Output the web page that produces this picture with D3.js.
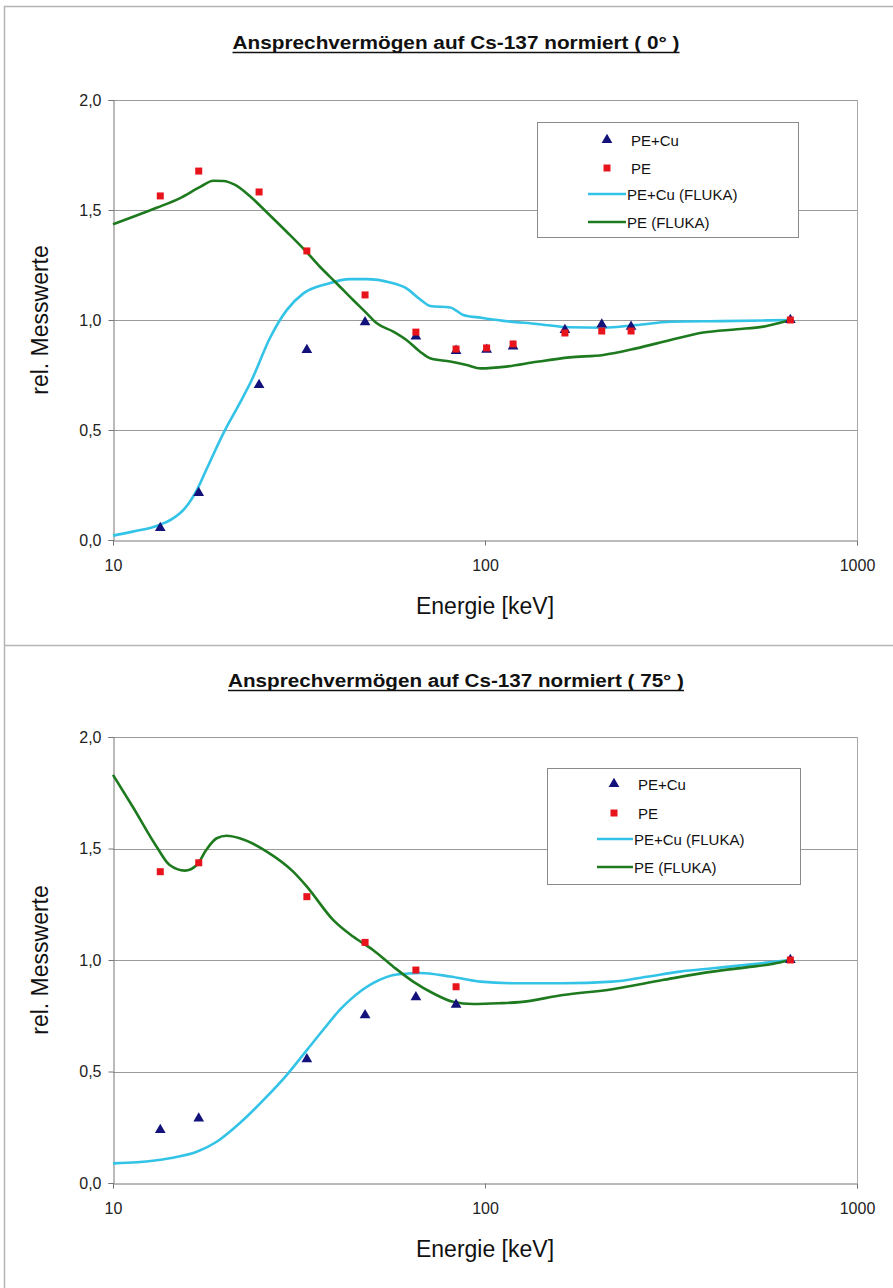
<!DOCTYPE html>
<html>
<head>
<meta charset="utf-8">
<script src="https://cdn.jsdelivr.net/npm/d3@7"></script>
<style>
  html, body { margin: 0; padding: 0; background: #fff; }
  svg { display: block; }
  text { font-family: "Liberation Sans", Arial, sans-serif; }
</style>
</head>
<body>
<svg id="chart" width="893" height="1288"></svg>
<script>
// Photon energies of the measured radiation qualities [keV]
const energies = [13.4, 17.0, 24.7, 33.2, 47.6, 65.2, 83.6, 101, 119, 164, 206, 247, 662];
const energies75 = [13.4, 17.0, 33.2, 47.6, 65.2, 83.6, 662];

// 0° — measured relative response
const pe0 = [1.564, 1.677, 1.582, 1.314, 1.114, 0.945, 0.868, 0.873, 0.891, 0.941, 0.950, 0.950, 1.0];
const peCu0 = [0.055, 0.214, 0.705, 0.864, 0.990, 0.925, 0.860, 0.865, 0.880, 0.955, 0.980, 0.970, 1.0];

// 0° — FLUKA simulation, PE
const flukaPeE0 = [10, 13.1, 15.1, 17.2, 18.6, 19.8, 21.3, 23.4, 25.9, 29.3, 33.1, 36.0, 39.9, 44.2, 48.1, 51.2, 56.7, 61.5, 66.9, 71.2, 80.6, 89.3, 97.2, 114, 138, 169, 208, 255, 315, 386, 475, 560, 621, 662];
const flukaPeV0 = [1.435, 1.510, 1.553, 1.606, 1.633, 1.632, 1.614, 1.561, 1.490, 1.401, 1.310, 1.242, 1.167, 1.091, 1.030, 0.985, 0.947, 0.909, 0.856, 0.826, 0.811, 0.795, 0.780, 0.788, 0.810, 0.830, 0.841, 0.871, 0.909, 0.943, 0.958, 0.970, 0.988, 1.0];

// 0° — FLUKA simulation, PE+Cu
const flukaCuE0 = [10, 11.3, 13.1, 14.5, 15.6, 16.8, 17.8, 19.8, 21.9, 23.6, 26.4, 29.3, 32.5, 37.6, 43.3, 48.1, 55.6, 61.5, 66.9, 71.2, 80.6, 87.4, 97.7, 111, 138, 169, 208, 255, 315, 432, 662];
const flukaCuV0 = [0.020, 0.038, 0.064, 0.098, 0.144, 0.227, 0.318, 0.485, 0.621, 0.727, 0.917, 1.045, 1.121, 1.164, 1.186, 1.186, 1.171, 1.144, 1.094, 1.064, 1.057, 1.023, 1.010, 0.997, 0.982, 0.967, 0.965, 0.977, 0.992, 0.995, 1.0];

// 75° — measured relative response
const pe75 = [1.396, 1.436, 1.284, 1.079, 0.955, 0.880, 1.0];
const peCu75 = [0.238, 0.290, 0.555, 0.753, 0.833, 0.800, 1.0];

// 75° — FLUKA simulation, PE
const flukaPeE75 = [10, 11.3, 13.1, 14.2, 15.6, 16.8, 17.8, 19.0, 20.2, 21.9, 25.9, 30.5, 33.2, 39.1, 44.2, 50.0, 56.7, 64.1, 72.5, 82.0, 92.8, 109, 124, 162, 220, 300, 409, 504, 592, 662];
const flukaPeV75 = [1.830, 1.687, 1.508, 1.426, 1.401, 1.426, 1.493, 1.546, 1.557, 1.546, 1.486, 1.396, 1.329, 1.179, 1.105, 1.045, 0.970, 0.903, 0.851, 0.813, 0.803, 0.806, 0.811, 0.843, 0.869, 0.910, 0.948, 0.967, 0.982, 1.0];

// 75° — FLUKA simulation, PE+Cu
const flukaCuE75 = [10, 11.6, 14.2, 16.8, 19.0, 21.9, 25.9, 29.3, 33.2, 36.7, 40.7, 43.3, 50.0, 57.9, 66.9, 80.6, 97.2, 119, 162, 220, 272, 334, 409, 504, 662];
const flukaCuV75 = [0.088, 0.093, 0.111, 0.140, 0.185, 0.268, 0.387, 0.484, 0.596, 0.686, 0.776, 0.820, 0.896, 0.935, 0.942, 0.926, 0.903, 0.896, 0.896, 0.903, 0.925, 0.948, 0.963, 0.978, 1.0];

const xTicks = [10, 100, 1000];
const yTicks = [0, 0.5, 1.0, 1.5, 2.0];
const seriesNames = ["PE+Cu", "PE", "PE+Cu (FLUKA)", "PE (FLUKA)"];
const titles = [
  "Ansprechvermögen auf Cs-137 normiert ( 0° )",
  "Ansprechvermögen auf Cs-137 normiert ( 75° )"
];

const COL_TRI = "#12127a";
const COL_SQ = "#e8141c";
const COL_CYAN = "#33c3e6";
const COL_GREEN = "#1e7a1e";

const svg = d3.select("#chart");

// panel frames
svg.append("path")
  .attr("d", "M4.5,1288 V6.5 H893 M4.5,645.5 H893")
  .attr("fill", "none").attr("stroke", "#b5b5b5").attr("stroke-width", 1.5);

const zip = (xs, ys) => xs.map((x, i) => [x, ys[i]]);

function drawPanel(cfg) {
  const g = svg.append("g");
  const x = d3.scaleLog().domain([10, 1000]).range([113, 857]);
  const y = d3.scaleLinear().domain([0, 2]).range([cfg.bottom, cfg.top]);

  // title (condensed bold, underlined)
  g.append("text")
    .attr("x", 456).attr("y", cfg.titleY)
    .attr("text-anchor", "middle")
    .attr("font-size", 18).attr("font-weight", "bold")
    .attr("textLength", cfg.titleW).attr("lengthAdjust", "spacingAndGlyphs")
    .attr("fill", "#111")
    .text(cfg.title);
  g.append("line")
    .attr("x1", 456 - cfg.titleW / 2).attr("x2", 456 + cfg.titleW / 2)
    .attr("y1", cfg.titleY + 3.5).attr("y2", cfg.titleY + 3.5)
    .attr("stroke", "#111").attr("stroke-width", 1.3);

  // horizontal gridlines
  g.append("g").selectAll("line")
    .data(yTicks.filter(d => d > 0))
    .join("line")
    .attr("x1", 113).attr("x2", 857)
    .attr("y1", d => Math.round(y(d)) + 0.5).attr("y2", d => Math.round(y(d)) + 0.5)
    .attr("stroke", "#9a9a9a").attr("stroke-width", 1);

  // right border of plot area
  g.append("line")
    .attr("x1", 857.5).attr("x2", 857.5)
    .attr("y1", y(2)).attr("y2", y(0))
    .attr("stroke", "#a8a8a8");

  // y axis
  const yAxis = d3.axisLeft(y).tickValues(yTicks).tickSize(5)
    .tickFormat(d => d3.format(".1f")(d).replace(".", ","));
  const ya = g.append("g").attr("transform", "translate(113.5,0)").call(yAxis);
  ya.select(".domain").attr("stroke", "#777");
  ya.selectAll(".tick line").attr("stroke", "#777");
  ya.selectAll(".tick text").attr("font-size", 16).attr("fill", "#222")
    .attr("font-family", "'Liberation Sans', Arial, sans-serif").attr("dx", -4);

  // x axis
  const xAxis = d3.axisBottom(x).tickValues(xTicks).tickSize(5).tickFormat(d3.format("d"));
  const xa = g.append("g").attr("transform", `translate(0,${Math.round(y(0)) + 0.5})`).call(xAxis);
  xa.select(".domain").attr("stroke", "#777");
  xa.selectAll(".tick line").attr("stroke", "#777");
  xa.selectAll(".tick text").attr("font-size", 16).attr("fill", "#222")
    .attr("font-family", "'Liberation Sans', Arial, sans-serif").attr("dy", 22);

  // axis titles
  g.append("text")
    .attr("transform", `translate(48,${(y(0) + y(2)) / 2}) rotate(-90)`)
    .attr("text-anchor", "middle").attr("font-size", 23).attr("fill", "#111")
    .text("rel. Messwerte");
  g.append("text")
    .attr("x", 485).attr("y", cfg.bottom + 74)
    .attr("text-anchor", "middle").attr("font-size", 23).attr("fill", "#111")
    .text("Energie [keV]");

  // simulation curves
  const line = d3.line().x(d => x(d[0])).y(d => y(d[1])).curve(d3.curveMonotoneX);
  g.append("path").datum(zip(cfg.cuE, cfg.cuV)).attr("d", line)
    .attr("fill", "none").attr("stroke", COL_CYAN).attr("stroke-width", 2.6)
    .attr("stroke-linejoin", "round");
  g.append("path").datum(zip(cfg.peE, cfg.peV)).attr("d", line)
    .attr("fill", "none").attr("stroke", COL_GREEN).attr("stroke-width", 2.6)
    .attr("stroke-linejoin", "round");

  // measured points
  const tri = d3.symbol().type(d3.symbolTriangle).size(50);
  g.append("g").selectAll("path")
    .data(zip(cfg.mE, cfg.cuM))
    .join("path")
    .attr("d", tri)
    .attr("transform", d => `translate(${x(d[0])},${y(d[1])})`)
    .attr("fill", COL_TRI);
  g.append("g").selectAll("rect")
    .data(zip(cfg.mE, cfg.peM))
    .join("rect")
    .attr("x", d => x(d[0]) - 3.5).attr("y", d => y(d[1]) - 3.5)
    .attr("width", 7).attr("height", 7)
    .attr("fill", COL_SQ);

  // legend
  const L = cfg.legend;
  const lg = g.append("g");
  lg.append("rect")
    .attr("x", L.x + 0.5).attr("y", L.y + 0.5).attr("width", L.w).attr("height", L.h)
    .attr("fill", "#fff").attr("stroke", "#8a8a8a").attr("stroke-width", 1);
  const rows = L.rows;
  lg.append("path").attr("d", tri)
    .attr("transform", `translate(${L.symX},${rows[0]})`).attr("fill", COL_TRI);
  lg.append("rect").attr("x", L.symX - 3.5).attr("y", rows[1] - 3.5)
    .attr("width", 7).attr("height", 7).attr("fill", COL_SQ);
  lg.append("line").attr("x1", L.lineX1).attr("x2", L.lineX2)
    .attr("y1", rows[2]).attr("y2", rows[2])
    .attr("stroke", COL_CYAN).attr("stroke-width", 2.6);
  lg.append("line").attr("x1", L.lineX1).attr("x2", L.lineX2)
    .attr("y1", rows[3]).attr("y2", rows[3])
    .attr("stroke", COL_GREEN).attr("stroke-width", 2.6);
  lg.selectAll("text.lab").data(seriesNames).join("text")
    .attr("class", "lab")
    .attr("x", (d, i) => i < 2 ? L.textX + 4 : L.textX)
    .attr("y", (d, i) => rows[i] + 5.5)
    .attr("font-size", 15).attr("fill", "#111")
    .text(d => d);
}

drawPanel({
  title: titles[0], titleY: 49, titleW: 447,
  top: 100, bottom: 540,
  mE: energies, peM: pe0, cuM: peCu0,
  peE: flukaPeE0, peV: flukaPeV0, cuE: flukaCuE0, cuV: flukaCuV0,
  legend: { x: 537, y: 122, w: 261, h: 115, symX: 607, lineX1: 588, lineX2: 626, textX: 627,
            rows: [140, 168, 194, 222] }
});

drawPanel({
  title: titles[1], titleY: 687, titleW: 456,
  top: 737, bottom: 1183,
  mE: energies75, peM: pe75, cuM: peCu75,
  peE: flukaPeE75, peV: flukaPeV75, cuE: flukaCuE75, cuV: flukaCuV75,
  legend: { x: 547, y: 768, w: 253, h: 116, symX: 614, lineX1: 597, lineX2: 633, textX: 634,
            rows: [784, 813, 839, 867] }
});
</script>
</body>
</html>
